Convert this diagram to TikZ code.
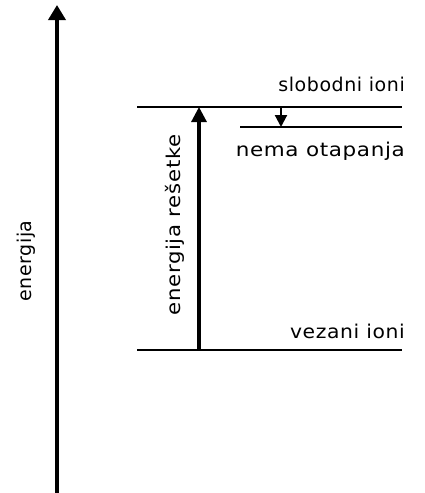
\documentclass[tikz,border=0pt]{standalone}
\usepackage{fontspec}
\newfontfamily\lblfont[LetterSpace=3]{DejaVu Sans}
\usetikzlibrary{arrows.meta}
\begin{document}
\begin{tikzpicture}[x=1pt,y=-1pt,
  lbl/.style={font=\lblfont\fontsize{19}{22}\selectfont, inner sep=0pt},
  level/.style={line width=2.1pt},
  axisarrow/.style={line width=3.6pt, -{Triangle[width=17pt,length=15pt]}},
  bigarrow/.style={line width=3.1pt, -{Triangle[width=15pt,length=15pt]}},
  smallarrow/.style={line width=2.1pt, -{Triangle[width=12pt,length=12pt]}}]
\useasboundingbox (0,0) rectangle (424,493);
\coordinate (axB) at (57,493);
\coordinate (axT) at (57,5);
\coordinate (topL) at (137,107);
\coordinate (topR) at (402,107);
\coordinate (midL) at (240,127);
\coordinate (midR) at (402,127);
\coordinate (botL) at (137,350);
\coordinate (botR) at (402,350);
\coordinate (bigB) at (199,350);
\coordinate (bigT) at (199,107);
\coordinate (smT) at (281,107);
\coordinate (smB) at (281,127);
\draw[axisarrow] (axB) -- (axT);
\draw[level] (topL) -- (topR);
\draw[level] (midL) -- (midR);
\draw[level] (botL) -- (botR);
\draw[bigarrow] (bigB) -- (bigT);
\draw[smallarrow] (smT) -- (smB);
\node[lbl, anchor=base east] (slob) at (405,91) {slobodni ioni};
\node[lbl, anchor=base east] (nema) at (405,156) {\scalebox{1.13}[1]{nema otapanja}};
\node[lbl, anchor=base east] (vez) at (405,338) {\scalebox{1.07}[1]{vezani ioni}};
\node[lbl, rotate=90, anchor=base] (en) at (31,261) {energija};
\node[lbl, rotate=90, anchor=base] (enr) at (180,225) {\scalebox{1.12}[1]{energija rešetke}};
\end{tikzpicture}
\end{document}
